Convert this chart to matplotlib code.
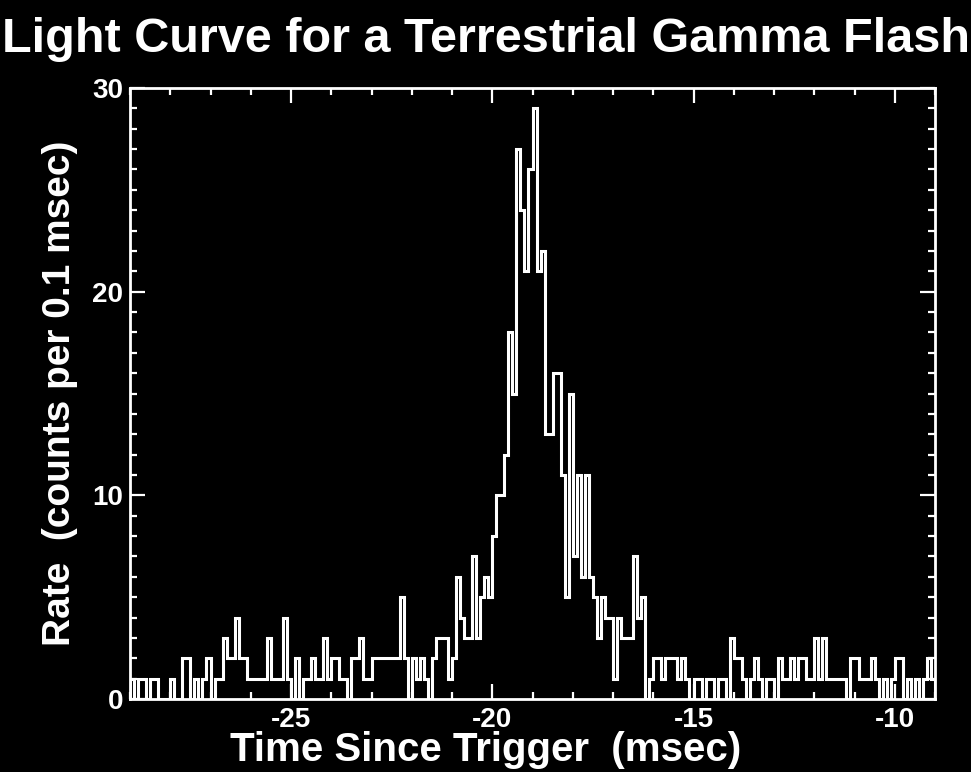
#### librerias ####
import numpy as np
import matplotlib
matplotlib.use('Agg')
import matplotlib.pyplot as plt
from matplotlib.ticker import MultipleLocator

plt.rcParams['font.family'] = ['Liberation Sans', 'DejaVu Sans']
plt.rcParams['font.weight'] = 'bold'
plt.rcParams['axes.unicode_minus'] = False

# --------------------------------------------------
# Datos: cuentas por bin de 0.1 msec (desde -29 msec)
# --------------------------------------------------
t_inicio = -29.0
ancho_bin = 0.1
cuentas = [
    1, 0, 1, 1, 0, 1, 1, 0, 0, 0,
    1, 0, 0, 2, 2, 0, 1, 0, 1, 2,
    0, 1, 1, 3, 2, 2, 4, 2, 2, 1,
    1, 1, 1, 1, 3, 1, 1, 1, 4, 1,
    0, 2, 0, 1, 1, 2, 1, 1, 3, 1,
    2, 2, 1, 1, 0, 2, 2, 3, 1, 1,
    2, 2, 2, 2, 2, 2, 2, 5, 2, 0,
    2, 1, 2, 1, 0, 2, 3, 3, 3, 1,
    2, 6, 4, 3, 3, 7, 3, 5, 6, 5,
    8, 10, 10, 12, 18, 15, 27, 24, 21, 26,
    29, 21, 22, 13, 13, 16, 16, 11, 5, 15,
    7, 11, 6, 11, 6, 5, 3, 5, 4, 4,
    1, 4, 3, 3, 3, 7, 4, 5, 0, 1,
    2, 2, 1, 2, 2, 2, 1, 2, 1, 0,
    1, 1, 0, 1, 1, 0, 1, 1, 0, 3,
    2, 2, 1, 0, 1, 2, 1, 0, 1, 1,
    0, 2, 1, 1, 2, 1, 2, 2, 1, 1,
    3, 1, 3, 1, 1, 1, 1, 1, 0, 2,
    2, 1, 1, 1, 2, 1, 0, 1, 0, 1,
    2, 2, 0, 1, 0, 1, 0, 1, 2, 1,
]
x_ticks = [-25, -20, -15, -10]
y_ticks = [0, 10, 20, 30]

bordes = t_inicio + ancho_bin * np.arange(len(cuentas) + 1)

# --------------------------------------------------
# Grafico
# --------------------------------------------------
fig = plt.figure(figsize=(9.71, 7.72), dpi=100, facecolor='black')
ax = fig.add_axes([130 / 971, 73 / 772, 805 / 971, 611 / 772])
ax.set_facecolor('black')

ax.stairs(cuentas, bordes, color='white', lw=2.2, baseline=0)

ax.set_xlim(-29, -9)
ax.set_ylim(0, 30)
ax.set_xticks(x_ticks)
ax.set_yticks(y_ticks)
ax.xaxis.set_minor_locator(MultipleLocator(1))
ax.yaxis.set_minor_locator(MultipleLocator(1))

for s in ax.spines.values():
    s.set_color('white')
    s.set_linewidth(2)

ax.tick_params(which='both', direction='in', top=True, right=True,
               colors='white', width=1.6)
ax.tick_params(which='major', length=11, labelsize=20, pad=6)
ax.tick_params(which='minor', length=5)
ax.tick_params(axis='y', which='major', pad=5)
for lab in ax.get_xticklabels() + ax.get_yticklabels():
    lab.set_fontweight('bold')

ax.set_ylabel('Rate  (counts per 0.1 msec)', color='white', fontsize=28,
              fontweight='bold', labelpad=10)
fig.text(0.5, 11 / 772, 'Time Since Trigger  (msec)', color='white',
         fontsize=29, fontweight='bold', ha='center', va='baseline')
fig.text(0.5, 1 - 40 / 772, 'Light Curve for a Terrestrial Gamma Flash',
         color='white', fontsize=35, fontweight='bold', ha='center', va='center')

fig.savefig('out.png', dpi=100, facecolor='black')
